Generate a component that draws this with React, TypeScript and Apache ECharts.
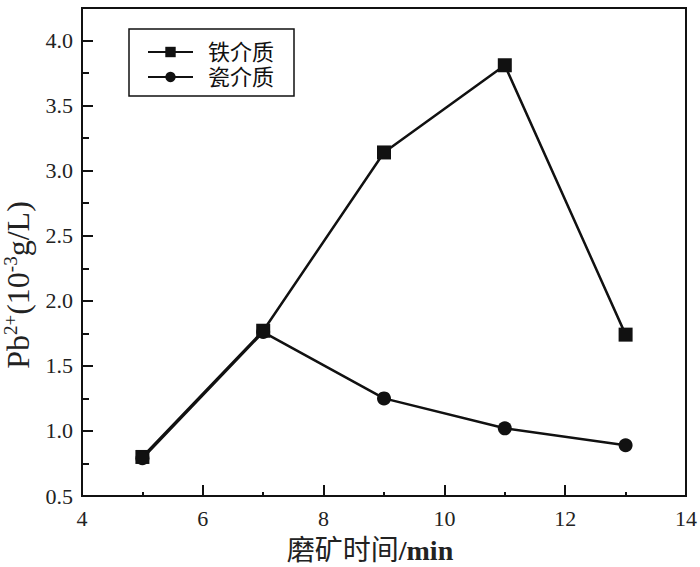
import React, { useEffect, useRef } from "react";
import * as echarts from "echarts";

const xValues = [5, 7, 9, 11, 13];
const ironValues = [0.8, 1.77, 3.14, 3.81, 1.74];
const ceramicValues = [0.79, 1.76, 1.25, 1.02, 0.89];
const seriesNames = ["铁介质", "瓷介质"];

const SERIF = "'Liberation Serif', 'Times New Roman', 'Noto Sans CJK SC', serif";

export default function App() {
  const ref = useRef<HTMLDivElement>(null);
  useEffect(() => {
    if (!ref.current) return;
    const chart = echarts.init(ref.current, undefined, { renderer: "svg" });
    const pairs = (vals: number[]) => xValues.map((x, i) => [x, vals[i]]);
    chart.setOption({
      animation: false,
      backgroundColor: "#fff",
      grid: {
        left: 82,
        right: 14,
        top: 8,
        bottom: 71,
        containLabel: false,
        outerBoundsMode: "none",
        show: true,
        borderColor: "#111",
        borderWidth: 2,
        backgroundColor: "transparent",
      },
      legend: {
        orient: "vertical",
        left: 129,
        top: 29,
        padding: [12, 20, 8, 18],
        itemGap: 3,
        itemWidth: 45,
        itemHeight: 13,
        borderColor: "#111",
        borderWidth: 1.5,
        borderRadius: 0,
        data: seriesNames,
        textStyle: {
          fontFamily: SERIF,
          fontSize: 22,
          color: "#111",
          padding: [0, 0, 0, 10],
        },
      },
      xAxis: {
        type: "value",
        min: 4,
        max: 14,
        interval: 2,
        splitLine: { show: false },
        axisLine: { show: true, lineStyle: { color: "#111", width: 2 } },
        axisTick: { show: true, inside: true, length: 11, lineStyle: { color: "#111", width: 2 } },
        minorTick: { show: true, splitNumber: 2, length: 4, lineStyle: { color: "#111", width: 2 } },
        axisLabel: { fontFamily: SERIF, fontSize: 22, color: "#222", margin: 11 },
        name: "{a|磨矿时间}{b|/min}",
        nameLocation: "middle",
        nameGap: 40,
        nameTextStyle: {
          padding: [0, 28, 0, 0],
          rich: {
            a: { fontFamily: SERIF, fontSize: 28, color: "#222" },
            b: { fontFamily: SERIF, fontSize: 28, fontWeight: "bold", color: "#222" },
          },
        },
      },
      yAxis: {
        type: "value",
        min: 0.5,
        max: 4.25,
        interval: 0.5,
        splitLine: { show: false },
        axisLine: { show: true, lineStyle: { color: "#111", width: 2 } },
        axisTick: { show: true, inside: true, length: 11, lineStyle: { color: "#111", width: 2 } },
        minorTick: { show: true, splitNumber: 2, length: 7, lineStyle: { color: "#111", width: 2 } },
        axisLabel: {
          fontFamily: SERIF,
          fontSize: 22,
          color: "#222",
          margin: 9,
          showMaxLabel: false,
          formatter: (v: number) => (v > 4.1 ? "" : v.toFixed(1)),
        },
        name: "{a|Pb}{s|2+}{a|(10}{s|-3}{a|g/L)}",
        nameLocation: "middle",
        nameGap: 47,
        nameRotate: 90,
        nameTextStyle: {
          padding: [0, 66, 0, 0],
          rich: {
            a: { fontFamily: SERIF, fontSize: 32, color: "#222", lineHeight: 34 },
            s: { fontFamily: SERIF, fontSize: 19, color: "#222", lineHeight: 19, verticalAlign: "top" },
          },
        },
      },
      series: [
        {
          name: seriesNames[0],
          type: "line",
          data: pairs(ironValues),
          symbol: "rect",
          symbolSize: 14,
          lineStyle: { color: "#111", width: 2.5 },
          itemStyle: { color: "#111" },
        },
        {
          name: seriesNames[1],
          type: "line",
          data: pairs(ceramicValues),
          symbol: "circle",
          symbolSize: 14,
          lineStyle: { color: "#111", width: 2.5 },
          itemStyle: { color: "#111" },
        },
      ],
    });
    return () => chart.dispose();
  }, []);
  return <div ref={ref} style={{ width: 700, height: 567, position: "absolute", left: 0, top: 0 }} />;
}
